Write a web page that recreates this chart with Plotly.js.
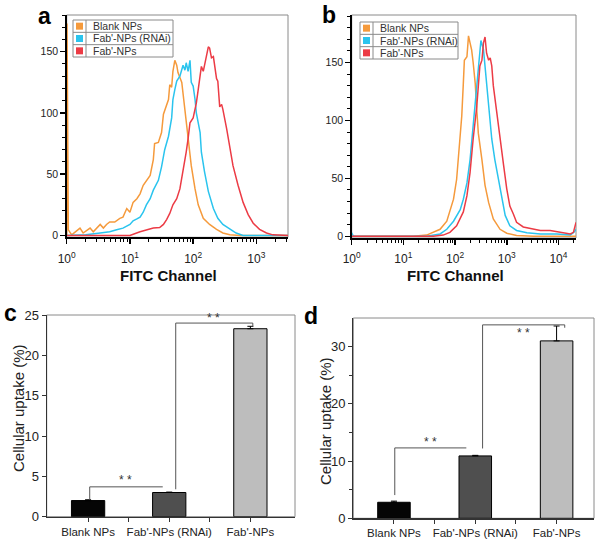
<!DOCTYPE html>
<html><head><meta charset="utf-8">
<script src="https://cdn.plot.ly/plotly-3.0.1.min.js"></script>
<style>html,body{margin:0;padding:0;background:#fff}#chart{width:605px;height:542px}</style>
</head><body><div id="chart"></div>
<script>
// ---------- DATA ----------
// Panel a histograms (x in log10 decades of FITC intensity, y = counts)
const aBlankX = [0,0.005,0.026,0.079,0.21,0.26,0.37,0.42,0.53,0.58,0.63,0.68,0.76,0.84,0.89,0.95,1.0,1.05,1.11,1.16,1.21,1.26,1.32,1.37,1.39,1.45,1.5,1.53,1.58,1.61,1.63,1.66,1.68,1.71,1.74,1.76,1.82,1.87,1.92,1.97,2.03,2.08,2.16,2.26,2.37,2.47,2.58,2.74,3.5];
const aBlankY = [0,173,4.6,0.5,6,2,6,3,9,6,9,11,11,14,15,22,19,27,30,34,41,45,49,62,75,76,84,99,106,111,123,121,134,143,139,133,125,103,79,57,38,25,14,9,5,2,0.5,0,0];
const aRnaiX = [0,0.3,0.53,0.68,0.79,0.89,1.0,1.05,1.11,1.16,1.21,1.26,1.32,1.37,1.45,1.5,1.55,1.61,1.66,1.68,1.71,1.74,1.79,1.84,1.87,1.89,1.92,1.95,1.97,2.0,2.03,2.05,2.11,2.13,2.18,2.24,2.32,2.39,2.47,2.58,2.68,2.79,3.5];
const aRnaiY = [0,0.5,2,3,4.6,6,9,12,13.5,15,19,25,30,37,45,56,70,81,96,111,119,126,130,139,135,141,134,143,125,122,111,100,84,68,52,36,22,14,9,5,2,0,0];
const aFabX = [0,1.0,1.16,1.26,1.37,1.47,1.53,1.58,1.63,1.68,1.74,1.79,1.84,1.89,1.92,1.95,2.0,2.03,2.05,2.08,2.11,2.13,2.16,2.18,2.21,2.24,2.26,2.29,2.32,2.34,2.37,2.39,2.42,2.45,2.47,2.53,2.58,2.63,2.71,2.79,2.87,2.95,3.05,3.16,3.26,3.5];
const aFabY = [0,0,3,4.6,6,6.5,9,13,18,25,30,38,52,68,79,92,96,103,108,119,130,138,134,139,149,154,153,145,146,138,128,126,105,107,103,87,73,57,41,27,17,10,5,2,0.5,0];
// Panel b histograms
const bBlankX = [0,1.19,1.45,1.58,1.71,1.84,1.9,1.97,2.03,2.08,2.13,2.16,2.18,2.23,2.26,2.29,2.32,2.35,2.39,2.42,2.45,2.52,2.58,2.65,2.74,2.87,3.0,3.19,3.52,4.34];
const bBlankY = [0,0,1,3.4,6,13,21,32,49,75,104,132,152,155,173,167,161,150,132,109,89,66,44,29,15,6,2.6,0.6,0,0];
const bRnaiX = [0,0.02,0.05,1.45,1.71,1.84,1.97,2.1,2.16,2.23,2.29,2.35,2.41,2.45,2.48,2.5,2.55,2.58,2.61,2.65,2.68,2.71,2.77,2.84,2.9,2.97,3.06,3.19,3.39,3.65,3.97,4.23,4.3,4.34];
const bRnaiY = [3,1,0,0,2,6,13,23,32,46,66,95,121,147,161,169,161,147,135,118,98,84,66,49,32,18,9,5,3,2,2,1,3.4,6];
const bFabX = [0,1.58,1.77,1.9,2.03,2.16,2.23,2.29,2.35,2.42,2.48,2.52,2.55,2.58,2.61,2.65,2.68,2.71,2.74,2.81,2.87,2.94,3.0,3.06,3.13,3.19,3.32,3.52,3.65,3.84,4.03,4.23,4.29,4.34];
const bFabY = [0,0,1,3.4,9,21,35,55,84,112,147,152,167,172,158,152,154,147,130,104,84,61,41,26,19,12,8,6,5,5,3.4,2,3.4,12];
const seriesNames = ["Blank NPs", "Fab'-NPs (RNAi)", "Fab'-NPs"];
// Panels c, d bar charts
const categories = ["Blank NPs", "Fab'-NPs (RNAi)", "Fab'-NPs"];
const cValues = [2.0, 3.0, 23.3];
const cErrors = [0.1, 0.05, 0.3];
const dValues = [2.8, 10.9, 31.0];
const dErrors = [0.2, 0.1, 2.6];
const decadeLabels = ["10<sup>0</sup>","10<sup>1</sup>","10<sup>2</sup>","10<sup>3</sup>","10<sup>4</sup>"];

// ---------- STYLE ----------
const FONT = "Liberation Sans, Arial, sans-serif";
const ORANGE = "#F59A3C", CYAN = "#2AC4EE", RED = "#EC3B45";
const lineColors = [ORANGE, CYAN, RED];
const barColors = ["#050505", "#4f4f4f", "#bdbdbd"];
const W = 605, H = 542;
const px = x => x / W, py = y => 1 - y / H;

const toLin = arr => arr.map(v => Math.pow(10, v));
function minorTicks(maxDec){ const t=[]; for(let d=0; d<=maxDec; d++){ for(let k=2;k<=9;k++) t.push(k*Math.pow(10,d)); } return t; }
const catIdx = categories.map((_, i) => i);

const traces = [];
[[aBlankX,aBlankY],[aRnaiX,aRnaiY],[aFabX,aFabY]].forEach((s,i)=>{
  traces.push({type:"scatter", mode:"lines", x:toLin(s[0]), y:s[1], name:seriesNames[i], xaxis:"x", yaxis:"y",
    line:{color:lineColors[i], width:1.5}, hoverinfo:"skip"});
});
[[bBlankX,bBlankY],[bRnaiX,bRnaiY],[bFabX,bFabY]].forEach((s,i)=>{
  traces.push({type:"scatter", mode:"lines", x:toLin(s[0]), y:s[1], name:seriesNames[i], xaxis:"x2", yaxis:"y2",
    line:{color:lineColors[i], width:1.5}, hoverinfo:"skip"});
});
traces.push({type:"bar", x:catIdx, y:cValues, text:categories, textposition:"none", xaxis:"x3", yaxis:"y3", width:0.41,
  marker:{color:barColors, line:{color:"#000", width:1}},
  error_y:{type:"data", symmetric:false, array:cErrors, arrayminus:[0,0,0], color:"#000", thickness:1, width:3}});
traces.push({type:"bar", x:catIdx, y:dValues, text:categories, textposition:"none", xaxis:"x4", yaxis:"y4", width:0.4,
  marker:{color:barColors, line:{color:"#000", width:1}},
  error_y:{type:"data", symmetric:false, array:dErrors, arrayminus:[0,0,0], color:"#000", thickness:1, width:3}});

const histX = (domain, range, ymain, nlab) => ({
  domain, anchor:ymain, type:"log", range, tickmode:"array",
  tickvals:[1,10,100,1000,10000].slice(0,nlab), ticktext:decadeLabels.slice(0,nlab),
  ticks:"outside", ticklen:5, tickwidth:1.5, tickcolor:"#000",
  showline:true, linecolor:"#000", linewidth:2, showgrid:false, zeroline:false,
  tickfont:{size:12, color:"#222"}, ticklabelstandoff:4,
  minor:{tickmode:"array", tickvals:minorTicks(nlab-1), ticks:"outside", ticklen:3, tickwidth:1, tickcolor:"#000", showgrid:false}
});
const histY = (domain, range, xmain) => ({
  domain, anchor:xmain, range, tickmode:"array", tickvals:[0,50,100,150],
  ticks:"outside", ticklen:5, tickwidth:1.5, tickcolor:"#000",
  showline:true, linecolor:"#000", linewidth:1.5, showgrid:false, zeroline:false,
  tickfont:{size:10.5, color:"#222"},
  minor:{dtick:10, tick0:0, ticks:"outside", ticklen:3, tickwidth:1, tickcolor:"#000", showgrid:false}
});
const barX = (domain, range, ymain) => ({domain, anchor:ymain, range, tickangle:0,
    tickmode:"array", tickvals:catIdx, ticktext:categories,
    ticks:"outside", ticklen:4, tickcolor:"#333",
    showline:true, linecolor:"#333", linewidth:1.2, showgrid:false, zeroline:false,
    tickfont:{size:11.5, color:"#222"},
    minor:{tickmode:"array", tickvals:[0.5, 1.5], ticks:"outside", ticklen:4, tickcolor:"#333", showgrid:false}});

const layout = {
  width:W, height:H, margin:{l:0,r:0,t:0,b:0}, showlegend:false,
  paper_bgcolor:"#fff", plot_bgcolor:"#fff", font:{family:FONT, color:"#222"},
  xaxis: histX([px(66.7), px(288)], [0, 3.5], "y", 4),
  yaxis: histY([py(237.3), py(15)], [-1.5, 180], "x"),
  xaxis2: histX([px(351.7), px(576)], [0, 4.34], "y2", 5),
  yaxis2: histY([py(238), py(15)], [-1.5, 191], "x2"),
  xaxis3: barX([px(46.7), px(295)], [-0.51, 2.55], "y3"),
  yaxis3: {domain:[py(516.7), py(315)], anchor:"x3", range:[0, 25], dtick:5,
    ticks:"outside", ticklen:4, tickcolor:"#333", showline:true, linecolor:"#333", linewidth:1.2,
    showgrid:false, zeroline:false, tickfont:{size:13, color:"#222"}},
  xaxis4: barX([px(353.3), px(594)], [-0.5, 2.46], "y4"),
  yaxis4: {domain:[py(518.3), py(318)], anchor:"x4", range:[0, 35], tickmode:"array", tickvals:[0,10,20,30],
    ticks:"outside", ticklen:4, tickcolor:"#333", showline:true, linecolor:"#333", linewidth:1.2,
    showgrid:false, zeroline:false, tickfont:{size:13, color:"#222"},
    minor:{tickmode:"array", tickvals:[5,15,25], ticks:"outside", ticklen:3, tickcolor:"#333", showgrid:false}},
  shapes:[], annotations:[]
};

// Boxes (top/right frame)
[["x","y"],["x2","y2"],["x3","y3"],["x4","y4"]].forEach(([xa,ya])=>{
  layout.shapes.push({type:"rect", xref:xa+" domain", yref:ya+" domain", x0:0, x1:1, y0:0, y1:1,
    line:{color:"#8a8a8a", width:1}, layer:"below"});
});

// Legends (table style)
function addLegend(x0, x1, y0, y1, div){
  const rowH = (y1 - y0) / 3;
  layout.shapes.push({type:"rect", xref:"paper", yref:"paper", x0:px(x0), x1:px(x1), y0:py(y1), y1:py(y0), line:{color:"#8a8a8a", width:1}, fillcolor:"#fff"});
  layout.shapes.push({type:"line", xref:"paper", yref:"paper", x0:px(div), x1:px(div), y0:py(y1), y1:py(y0), line:{color:"#8a8a8a", width:1}});
  for(let r=1;r<3;r++) layout.shapes.push({type:"line", xref:"paper", yref:"paper", x0:px(x0), x1:px(x1), y0:py(y0+r*rowH), y1:py(y0+r*rowH), line:{color:"#8a8a8a", width:1}});
  seriesNames.forEach((n,i)=>{
    const cy = y0 + (i+0.5)*rowH, cx = (x0+div)/2;
    layout.shapes.push({type:"rect", xref:"paper", yref:"paper", x0:px(cx-3.5), x1:px(cx+3.5), y0:py(cy+3.5), y1:py(cy-3.5), line:{width:0}, fillcolor:lineColors[i]});
    layout.annotations.push({xref:"paper", yref:"paper", x:px(div+5), y:py(cy), xanchor:"left", yanchor:"middle", text:n, showarrow:false, font:{size:10.5, color:"#333", family:FONT}});
  });
}
addLegend(73, 173, 20, 57, 86);
addLegend(360, 458, 22, 59, 373);

// Panel letters
[["a",44,16],["b",329,15],["c",10,313],["d",311,316]].forEach(([t,x,y])=>{
  layout.annotations.push({xref:"paper", yref:"paper", x:px(x), y:py(y), xanchor:"center", yanchor:"middle", text:"<b>"+t+"</b>", showarrow:false, font:{size:23, color:"#000", family:FONT}});
});
// Axis titles
function ann(x, y, text, size, angle, color){ layout.annotations.push({xref:"paper", yref:"paper", x:px(x), y:py(y), xanchor:"center", yanchor:"middle", text, textangle:angle||0, showarrow:false, font:{size, color, family:FONT}}); }
ann(168, 275, "<b>FITC Channel</b>", 15, 0, "#111");
ann(455, 275, "<b>FITC Channel</b>", 15, 0, "#111");
ann(18, 408, "Cellular uptake (%)", 15, -90, "#222");
ann(325, 421, "Cellular uptake (%)", 15, -90, "#222");

// Significance brackets
function seg(xa, ya, x0, y0, x1, y1){ layout.shapes.push({type:"line", xref:xa, yref:ya, x0, y0, x1, y1, line:{color:"#555", width:1}}); }
function star(xa, ya, x, y){ layout.annotations.push({xref:xa, yref:ya, x, y, xanchor:"center", yanchor:"middle", text:"* *", showarrow:false, font:{size:12, color:"#333", family:FONT}}); }
// panel c
seg("x3","y3",0.02,cValues[0]+cErrors[0],0.02,3.7); seg("x3","y3",0.02,3.7,0.92,3.7);
seg("x3","y3",1.08,3.4,1.08,24.0); seg("x3","y3",1.08,24.0,2.03,24.0); seg("x3","y3",2.03,24.0,2.03,cValues[2]+cErrors[2]);
star("x3","y3",0.46,4.5); star("x3","y3",1.54,24.6);
// panel d
seg("x4","y4",0.01,4.06,0.01,12.3); seg("x4","y4",0.01,12.3,0.89,12.3);
seg("x4","y4",1.09,12.2,1.09,33.8); seg("x4","y4",1.09,33.8,2.1,33.8); seg("x4","y4",2.1,33.8,2.1,33.3);
star("x4","y4",0.45,13.4); star("x4","y4",1.59,32.3);

Plotly.newPlot("chart", traces, layout, {staticPlot:true, displayModeBar:false});
</script>
</body></html>
